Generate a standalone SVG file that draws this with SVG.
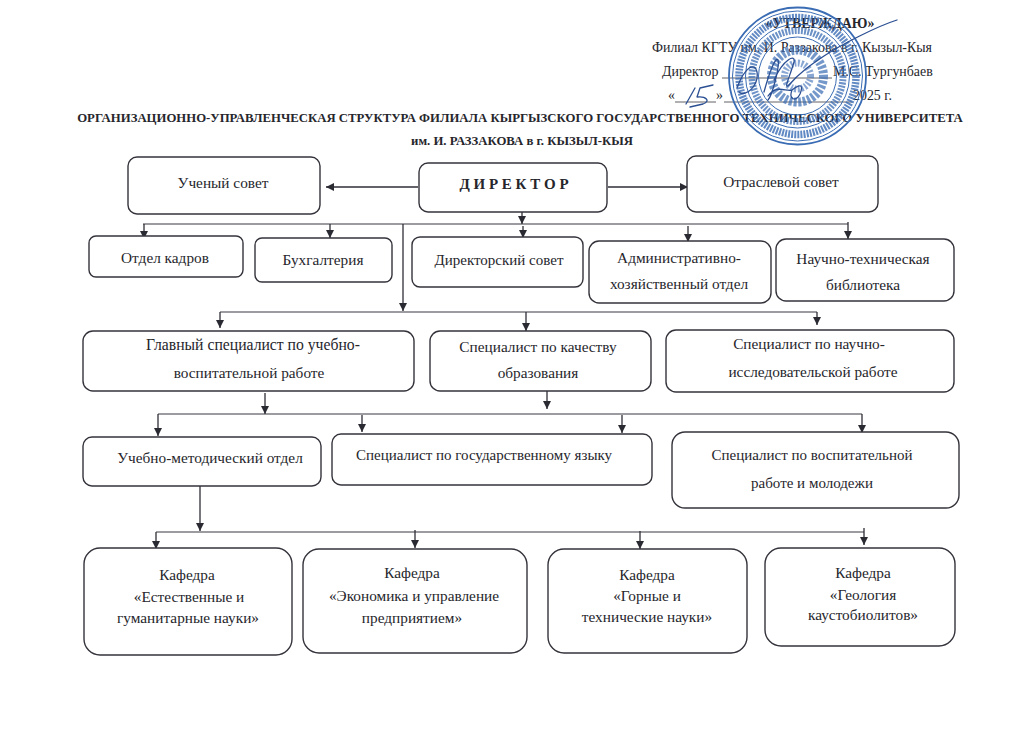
<svg xmlns="http://www.w3.org/2000/svg" width="1036" height="734" viewBox="0 0 1036 734">
<style>
text{font-family:"Liberation Serif","Times New Roman",serif;fill:#26262c;font-size:15.3px;text-anchor:middle}
.t{font-weight:bold;font-size:12.75px}
.h{font-size:13.9px}
.l{text-anchor:start}
.n{font-size:15px}
.b{fill:#fff;stroke:#33333b;stroke-width:1.4}
.c path{fill:none;stroke:#3a3a42;stroke-width:1.1}
.c path.a{stroke:#2e2e36;stroke-width:1.3;marker-end:url(#ah)}
.s{fill:none;stroke:#3a6cb4}
.g{fill:none;stroke:#2b4f93;stroke-width:1.3;stroke-linecap:round;stroke-linejoin:round}
</style>
<defs><marker id="ah" markerUnits="userSpaceOnUse" markerWidth="9" markerHeight="9" refX="8" refY="4" orient="auto"><path d="M0 0L8 4L0 8z" fill="#2a2a32"/></marker></defs>
<rect width="1036" height="734" fill="#fff"/>
<g id="header">
<text x="520" y="122" class="t">ОРГАНИЗАЦИОННО-УПРАВЛЕНЧЕСКАЯ СТРУКТУРА ФИЛИАЛА КЫРГЫЗСКОГО ГОСУДАРСТВЕННОГО ТЕХНИЧЕСКОГО УНИВЕРСИТЕТА</text>
<text x="522" y="145" class="t">им. И. РАЗЗАКОВА в г. КЫЗЫЛ-КЫЯ</text>
<text x="820" y="28" font-weight="bold" class="h">«УТВЕРЖДАЮ»</text>
<text x="792" y="52" class="h">Филиал КГТУ им. И. Раззакова в г. Кызыл-Кыя</text>
<text x="662" y="76" class="h l">Директор</text>
<text x="833" y="76" class="h l">М.С. Тургунбаев</text>
<text x="668" y="100" class="h l">«</text>
<text x="716" y="100" class="h l">»</text>
<text x="853" y="100" class="h l">2025 г.</text>
<path d="M722 78H832M675 102H716M724 102H852" stroke="#3a3a42" stroke-width=".8" fill="none"/>
</g>
<g id="stamp">
<circle class="s" cx="797.5" cy="76" r="68.5" stroke-width="1.8"/>
<circle class="s" cx="797.5" cy="76" r="65" stroke-width="1"/>
<circle class="s" cx="797.5" cy="76" r="58.5" stroke-width="7.5" stroke-dasharray="2 1.1" opacity=".8"/>
<circle class="s" cx="797.5" cy="76" r="52" stroke-width="1"/>
<circle class="s" cx="797.5" cy="76" r="45.5" stroke-width="7" stroke-dasharray="2 1.2" opacity=".75"/>
<circle class="s" cx="797.5" cy="76" r="39" stroke-width="1"/>
<circle class="s" cx="797.5" cy="76" r="26" stroke-width="9" stroke-dasharray="3 1.6" opacity=".7"/>
<circle class="s" cx="797.5" cy="76" r="13" stroke-width="7" stroke-dasharray="2 1.6" opacity=".6"/>
<path class="g" d="M737 88C745 66 755 62 757 72C759 85 746 98 739 92M764 92C770 70 776 56 778 60C780 66 772 96 768 100M774 80C784 58 796 54 794 62C790 76 784 88 788 86C800 72 812 64 824 56C842 44 878 26 897 20M768 96C776 84 786 92 792 90C800 84 804 84 800 94C796 102 788 100 792 90M686 104L695 88M713 85L700 88L697 97C706 96 711 101 703 104L690 107"/>
</g>
<g id="connectors" class="c">
<path class="a" d="M418 187H326"/>
<path class="a" d="M608 187H688"/>
<path class="a" d="M522 212V224"/>
<path d="M143 224H848"/>
<path class="a" d="M144 224V239"/>
<path class="a" d="M330 224V238"/>
<path class="a" d="M523 226V238"/>
<path class="a" d="M688 226V242"/>
<path class="a" d="M848 222V239"/>
<path class="a" d="M403 224V311"/>
<path d="M220 312H817"/>
<path class="a" d="M220 312V328"/>
<path class="a" d="M526 312V331"/>
<path class="a" d="M817 312V325"/>
<path class="a" d="M265 393V414"/>
<path class="a" d="M547 391V409"/>
<path d="M158 414H862"/>
<path class="a" d="M158 414V436"/>
<path class="a" d="M362 415V432"/>
<path class="a" d="M622 415V433"/>
<path class="a" d="M862 414V433"/>
<path class="a" d="M200 486V531"/>
<path d="M156 532H864"/>
<path class="a" d="M156 532V549"/>
<path class="a" d="M415 530V548"/>
<path class="a" d="M640 531V549"/>
<path class="a" d="M864 528V545"/>
</g>
<g id="uchenyi-sovet"><rect class="b" x="128" y="157" width="192" height="57" rx="9"/><text x="223" y="188">Ученый совет</text></g>
<g id="direktor"><rect class="b" x="419" y="163" width="188" height="49" rx="9"/><text x="514" y="189" font-weight="bold" style="font-size:15px">Д И Р Е К Т О Р</text></g>
<g id="otraslevoi-sovet"><rect class="b" x="687" y="156" width="191" height="56" rx="9"/><text x="781" y="187">Отраслевой совет</text></g>
<g id="otdel-kadrov"><rect class="b" x="89" y="236" width="154" height="41" rx="7"/><text x="165" y="263">Отдел кадров</text></g>
<g id="buhgalteriya"><rect class="b" x="255" y="238" width="137" height="44" rx="7"/><text x="323" y="265">Бухгалтерия</text></g>
<g id="direktorskii-sovet"><rect class="b" x="412" y="237" width="171" height="50" rx="8"/><text x="499" y="265" class="n">Директорский совет</text></g>
<g id="ahd"><rect class="b" x="589" y="241" width="182" height="62" rx="10"/><text x="679" y="263">Административно-</text><text x="679" y="289">хозяйственный отдел</text></g>
<g id="biblioteka"><rect class="b" x="776" y="239" width="178" height="62" rx="10"/><text x="863" y="264">Научно-техническая</text><text x="863" y="290">библиотека</text></g>
<g id="glavnyi"><rect class="b" x="83" y="331" width="331" height="60" rx="10"/><text x="253" y="350" style="font-size:15.7px">Главный специалист по учебно-</text><text x="249" y="378">воспитательной работе</text></g>
<g id="kachestvo"><rect class="b" x="430" y="331" width="221" height="60" rx="10"/><text x="538" y="352">Специалист по качеству</text><text x="538" y="378">образования</text></g>
<g id="nauchno"><rect class="b" x="666" y="330" width="288" height="62" rx="10"/><text x="809" y="349">Специалист по научно-</text><text x="813" y="377">исследовательской работе</text></g>
<g id="umo"><rect class="b" x="83" y="437" width="238" height="49" rx="9"/><text x="210" y="463">Учебно-методический отдел</text></g>
<g id="goszyk"><rect class="b" x="332" y="434" width="320" height="51" rx="9"/><text x="484" y="460" class="n">Специалист по государственному языку</text></g>
<g id="molodezh"><rect class="b" x="672" y="432" width="287" height="76" rx="13"/><text x="812" y="460" class="n">Специалист по воспитательной</text><text x="812" y="488" class="n">работе и молодежи</text></g>
<g id="kaf1"><rect class="b" x="84" y="548" width="208" height="107" rx="16"/><text x="187" y="580">Кафедра</text><text x="189" y="602">«Естественные и</text><text x="188" y="623">гуманитарные науки»</text></g>
<g id="kaf2"><rect class="b" x="303" y="549" width="224" height="104" rx="16"/><text x="412" y="578">Кафедра</text><text x="414" y="601">«Экономика и управление</text><text x="412" y="623">предприятием»</text></g>
<g id="kaf3"><rect class="b" x="548" y="549" width="199" height="104" rx="16"/><text x="647" y="580">Кафедра</text><text x="647" y="601">«Горные и</text><text x="647" y="622">технические науки»</text></g>
<g id="kaf4"><rect class="b" x="765" y="548" width="190" height="98" rx="16"/><text x="863" y="578">Кафедра</text><text x="863" y="600">«Геология</text><text x="863" y="620">каустобиолитов»</text></g>
</svg>
